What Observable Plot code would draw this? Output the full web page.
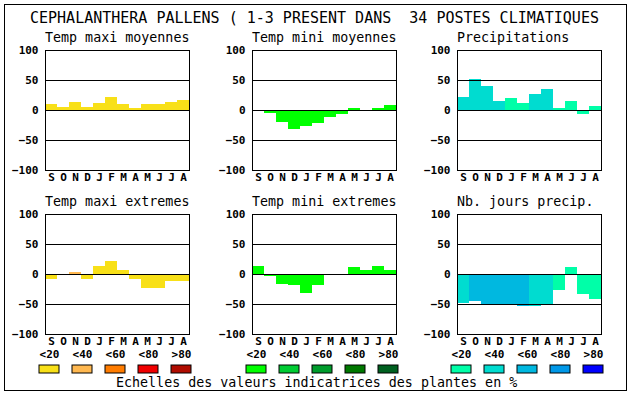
<!DOCTYPE html>
<html>
<head>
<meta charset="utf-8">
<script src="https://cdn.jsdelivr.net/npm/d3@7"></script>
<script src="https://cdn.jsdelivr.net/npm/@observablehq/plot@0.6"></script>
<style>
  html, body { margin: 0; padding: 0; background: #fff; }
  #root { position: relative; width: 630px; height: 394px; overflow: hidden; background: #fff; }
  #root > svg, #root > .abs { position: absolute; }
</style>
</head>
<body>
<div id="root"></div>
<script>
// ---- data ----
const months = ["S","O","N","D","J","F","M","A","M","J","J","A"];
const yTicks = [-100, -50, 0, 50, 100];
const legendLabels = ["<20", "<40", "<60", "<80", ">80"];
const mainTitle = "CEPHALANTHERA PALLENS ( 1-3 PRESENT DANS  34 POSTES CLIMATIQUES";
const caption = "Echelles des valeurs indicatrices des plantes en %";

const redPalette   = ["#f8e018", "#ffb850", "#ff7c00", "#f00000", "#b00c00"];
const greenPalette = ["#00ff00", "#00cc33", "#009c2c", "#007800", "#006020"];
const bluePalette  = ["#00ffa8", "#00dcd0", "#00b8e0", "#0098e8", "#0000ff"];

const tmaxMoyValues = [10, 5, 13, 5, 12, 22, 10, 3, 10, 10, 13, 17];
const tmaxMoyClass  = [0, 0, 0, 0, 0, 0, 0, 0, 0, 0, 0, 0];
const tminMoyValues = [0, -5, -20, -32, -27, -22, -12, -7, 4, -2, 4, 8];
const tminMoyClass  = [0, 0, 0, 0, 0, 0, 0, 0, 0, 0, 0, 0];
const precipValues  = [22, 52, 40, 15, 20, 12, 27, 35, 3, 15, -6, 7];
const precipClass   = [1, 1, 1, 1, 0, 0, 1, 1, 0, 0, 0, 0];
const tmaxExtValues = [-8, -2, 4, -8, 14, 22, 6, -8, -24, -23, -12, -12];
const tmaxExtClass  = [0, 0, 1, 0, 0, 0, 0, 0, 0, 0, 0, 0];
const tminExtValues = [14, -4, -16, -18, -31, -18, -2, -2, 12, 7, 14, 6];
const tminExtClass  = [0, 0, 0, 0, 0, 0, 0, 0, 0, 0, 0, 0];
const nbJoursValues = [-49, -45, -52, -52, -52, -54, -54, -50, -27, 12, -34, -42];
const nbJoursClass  = [1, 2, 2, 2, 2, 2, 1, 1, 0, 0, 0, 0];

// ---- layout ----
const FONT = "'DejaVu Sans Mono', 'Liberation Mono', monospace";
const colLeft = [45, 252, 457];
const rowTop = [50, 214];
const ML = 42, MR = 4, MT = 8, MB = 14, FW = 144, FH = 120;

const panels = [
  {title: "Temp maxi moyennes", values: tmaxMoyValues, classes: tmaxMoyClass, palette: redPalette,   col: 0, row: 0},
  {title: "Temp mini moyennes", values: tminMoyValues, classes: tminMoyClass, palette: greenPalette, col: 1, row: 0},
  {title: "Precipitations",     values: precipValues,  classes: precipClass,  palette: bluePalette,  col: 2, row: 0},
  {title: "Temp maxi extremes", values: tmaxExtValues, classes: tmaxExtClass, palette: redPalette,   col: 0, row: 1},
  {title: "Temp mini extremes", values: tminExtValues, classes: tminExtClass, palette: greenPalette, col: 1, row: 1},
  {title: "Nb. jours precip.",  values: nbJoursValues, classes: nbJoursClass, palette: bluePalette,  col: 2, row: 1}
];

const root = document.getElementById("root");

function panelPlot(p) {
  const data = p.values.map((v, i) => ({i, v, color: p.palette[p.classes[i]]}));
  return Plot.plot({
    width: ML + FW + MR,
    height: MT + FH + MB,
    marginLeft: ML, marginRight: MR, marginTop: MT, marginBottom: MB,
    style: {fontFamily: FONT, fontSize: "11px", fontWeight: "bold", color: "black", background: "transparent", overflow: "visible"},
    x: {type: "band", domain: d3.range(12), padding: 0, tickFormat: i => months[i], tickSize: 0, tickPadding: 3, label: null},
    y: {domain: [-100, 100], ticks: yTicks, tickSize: 0, tickPadding: 7, label: null},
    color: {type: "identity"},
    marks: [
      Plot.barY(data, {x: "i", y: "v", fill: "color", insetLeft: 0, insetRight: 0, shapeRendering: "crispEdges"}),
      Plot.ruleY([-50, 0, 50], {stroke: "black", strokeWidth: 1}),
      Plot.frame({stroke: "black", strokeWidth: 1})
    ]
  });
}

for (const p of panels) {
  const svg = panelPlot(p);
  svg.style.left = (colLeft[p.col] - ML) + "px";
  svg.style.top = (rowTop[p.row] - MT) + "px";
  root.appendChild(svg);
}

// legends
const legendLeft = [39, 246, 451];
const legendPalettes = [redPalette, greenPalette, bluePalette];
legendPalettes.forEach((pal, g) => {
  const svg = Plot.plot({
    width: 152, height: 22,
    marginLeft: 0, marginRight: 0, marginTop: 12, marginBottom: 2,
    style: {fontFamily: FONT, fontSize: "11px", fontWeight: "bold", color: "black", background: "transparent", overflow: "visible"},
    x: {type: "band", domain: legendLabels, paddingInner: 0.394, paddingOuter: 0, axis: null},
    color: {type: "identity"},
    marks: [
      Plot.cell(legendLabels, {x: d => d, fill: (d, i) => pal[i], stroke: "black", strokeWidth: 1}),
      Plot.text(legendLabels, {x: d => d, frameAnchor: "top", dy: -8, lineAnchor: "bottom", fill: "black"})
    ]
  });
  svg.style.left = legendLeft[g] + "px";
  svg.style.top = "353px";
  root.appendChild(svg);
});

// overlay: border, titles, caption
const ov = d3.select(root).append("svg")
  .attr("width", 630).attr("height", 394)
  .style("left", "0px").style("top", "0px")
  .style("pointer-events", "none");
ov.append("rect").attr("x", 4.5).attr("y", 4.5).attr("width", 622).attr("height", 386)
  .attr("fill", "none").attr("stroke", "black").attr("stroke-width", 1);
ov.append("text").attr("x", 30).attr("y", 23)
  .style("font-family", FONT).style("font-size", "15px").style("font-weight", "500").style("white-space", "pre")
  .attr("fill", "black").text(mainTitle);
for (const p of panels) {
  ov.append("text").attr("x", colLeft[p.col]).attr("y", rowTop[p.row] - 8)
    .style("font-family", FONT).style("font-size", "13.33px").style("white-space", "pre")
    .attr("fill", "black").text(p.title);
}
ov.append("text").attr("x", 116).attr("y", 387)
  .style("font-family", FONT).style("font-size", "13.33px").style("white-space", "pre")
  .attr("fill", "black").text(caption);
</script>
</body>
</html>
